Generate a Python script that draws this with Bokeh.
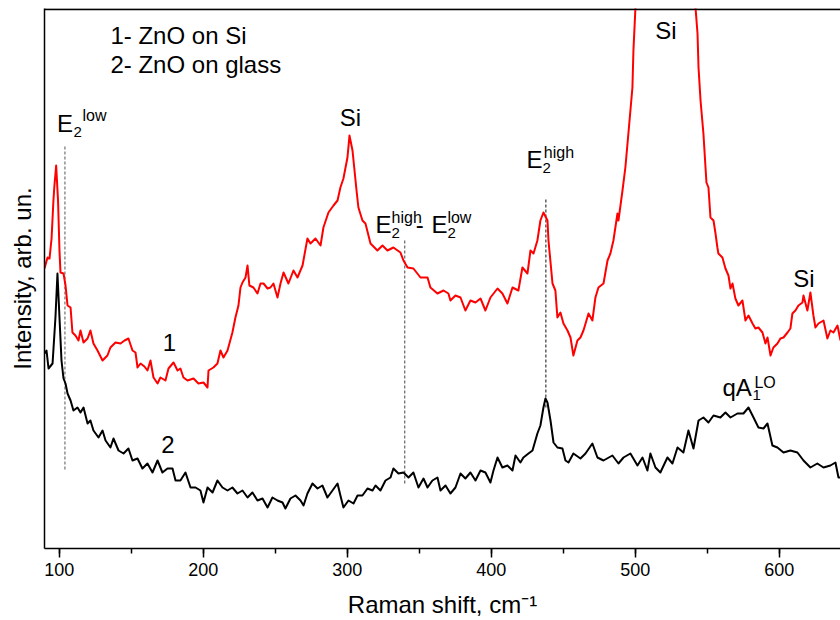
from bokeh.plotting import figure
from bokeh.models import Range1d, SingleIntervalTicker, FixedTicker, Label, Span
from bokeh.embed import file_html
from bokeh.resources import INLINE

FONT = "Liberation Sans"

# ---- data: Raman shift (cm^-1) and intensity (arb. un.) ----
red_x = [89.8, 91.9, 93.3, 94.7, 96.0, 96.7, 97.9, 99.2, 100.2, 100.9, 103.0, 104.4, 105.8, 107.9, 109.2,
         111.3, 113.4, 114.8, 116.9, 119.7, 121.7, 123.8, 126.6, 130.1, 133.5, 135.6, 139.1, 142.6, 145.4,
         148.1, 150.9, 153.0, 154.4, 156.5, 159.2, 161.3, 163.4, 165.5, 168.3, 170.3, 173.8, 175.9, 179.4,
         182.2, 184.2, 186.3, 189.1, 193.3, 196.7, 200.2, 203.0, 203.7, 207.1, 209.9, 212.0, 214.1, 216.9,
         220.3, 222.4, 224.5, 225.9, 227.3, 229.4, 230.8, 232.1, 234.9, 237.7, 239.8, 241.9, 244.7, 246.7,
         248.8, 251.6, 253.7, 255.8, 259.2, 262.7, 265.5, 269.0, 272.4, 274.5, 278.0, 281.5, 283.5, 287.0,
         290.5, 293.3, 295.3, 297.4, 300.2, 301.6, 303.7, 305.1, 306.5, 307.8, 310.6, 312.7, 316.2, 321.0,
         324.5, 328.0, 332.1, 337.0, 339.1, 341.9, 346.0, 350.9, 355.8, 357.8, 362.7, 366.9, 370.3, 371.7,
         375.2, 378.7, 382.1, 385.6, 389.1, 392.6, 396.0, 399.5, 404.4, 407.8, 411.3, 414.8, 418.9, 421.7,
         425.2, 427.3, 429.4, 432.1, 434.2, 436.3, 439.1, 439.8, 442.6, 444.6, 446.0, 448.1, 450.2, 453.0,
         455.1, 457.1, 459.9, 462.0, 464.1, 467.6, 470.3, 472.4, 474.5, 478.0, 480.8, 482.8, 484.9, 487.7,
         488.4, 491.2, 493.2, 495.3, 498.1, 498.8, 500.2, 501.6, 507.1, 521.0, 534.9, 540.5, 541.9, 543.3,
         544.0, 545.4, 547.4, 549.5, 550.9, 552.3, 554.4, 555.8, 557.1, 557.8, 560.6, 562.7, 564.8, 566.2,
         567.6, 569.6, 571.7, 574.5, 576.6, 578.7, 581.5, 583.5, 585.6, 588.4, 590.5, 591.9, 594.0, 596.0,
         598.8, 600.9, 603.0, 605.8, 607.8, 609.2, 611.3, 613.4, 616.2, 616.9, 619.6, 621.7, 623.8, 625.2,
         627.3, 630.8, 633.5, 635.6, 637.7, 640.5, 642.6]
red_y = [280, 291, 290, 310, 348, 363, 383, 348, 298, 276, 275, 263, 243, 241, 216,
         213, 208, 218, 206, 210, 218, 205, 198, 188, 193, 201, 206, 205, 208,
         210, 198, 196, 181, 185, 182, 178, 188, 171, 165, 171, 168, 180, 186,
         178, 180, 171, 168, 170, 165, 166, 161, 178, 181, 185, 198, 191, 198,
         216, 231, 243, 261, 266, 271, 283, 263, 261, 255, 265, 265, 260, 261,
         265, 251, 265, 276, 265, 278, 271, 283, 310, 305, 310, 303, 321, 336,
         343, 348, 361, 370, 391, 413, 398, 378, 358, 341, 328, 325, 305, 298,
         303, 298, 301, 296, 288, 281, 280, 271, 271, 261, 255, 258, 255, 248,
         253, 251, 238, 248, 246, 250, 238, 251, 260, 255, 245, 261, 258, 281,
         275, 298, 295, 308, 328, 336, 328, 308, 265, 258, 231, 236, 225, 218,
         211, 193, 208, 211, 218, 235, 228, 251, 261, 265, 288, 295, 308, 335,
         328, 358, 381, 415, 461, 498, 541, 600, 720, 900, 720, 600, 541, 515,
         481, 448, 415, 366, 361, 331, 328, 315, 301, 295, 291, 280, 273, 260,
         265, 250, 243, 248, 228, 233, 225, 220, 221, 216, 205, 211, 193, 201,
         205, 210, 211, 216, 220, 235, 238, 243, 246, 253, 238, 256, 233, 221,
         225, 228, 210, 218, 216, 223, 208]

black_x = [89.8, 91.2, 92.6, 95.4, 97.4, 98.8, 100.2, 101.6, 103.0, 104.4, 105.8, 107.9, 109.9, 112.7,
           114.8, 116.9, 119.7, 121.7, 123.8, 127.3, 130.1, 132.2, 135.6, 137.7, 141.2, 144.7, 148.1,
           150.9, 154.4, 157.8, 161.3, 164.8, 168.3, 171.7, 175.2, 178.7, 180.8, 184.2, 187.7, 191.2,
           194.7, 198.1, 200.2, 203.0, 206.5, 209.9, 213.4, 216.9, 220.3, 223.8, 227.3, 230.8, 234.2,
           237.7, 241.2, 244.7, 248.1, 251.6, 255.1, 257.1, 260.6, 264.1, 267.6, 269.7, 272.4, 275.9,
           279.4, 282.8, 286.3, 289.8, 293.3, 295.3, 297.4, 300.9, 304.4, 307.2, 310.6, 314.1, 317.6,
           319.7, 323.1, 326.6, 330.1, 332.1, 335.6, 339.1, 342.6, 346.0, 349.5, 353.0, 355.8, 359.2,
           362.7, 364.8, 368.3, 371.7, 375.2, 378.7, 382.1, 385.6, 389.1, 392.6, 396.0, 399.5, 401.6,
           404.4, 407.8, 411.3, 414.8, 416.9, 420.3, 422.4, 425.9, 428.7, 432.1, 434.2, 436.3, 437.7,
           439.1, 441.2, 443.3, 446.0, 449.5, 451.6, 453.7, 457.1, 462.0, 465.5, 470.3, 473.8, 478.0,
           484.2, 488.4, 491.9, 496.7, 501.6, 505.1, 508.5, 510.6, 514.1, 517.5, 522.4, 525.9, 529.4,
           533.5, 537.0, 540.5, 544.0, 547.4, 550.9, 554.4, 559.2, 562.7, 566.2, 571.0, 575.2, 578.7,
           582.2, 585.6, 589.1, 591.9, 595.3, 598.8, 603.0, 607.8, 612.7, 616.9, 621.7, 626.5, 630.8,
           635.6, 639.1, 641.2, 642.6]
black_y = [195, 198, 180, 185, 231, 275, 231, 188, 170, 165, 155, 148, 138, 141,
           136, 141, 125, 128, 118, 111, 118, 108, 101, 110, 98, 95, 100,
           88, 90, 80, 85, 76, 88, 76, 80, 80, 68, 68, 76, 61,
           61, 58, 46, 61, 56, 68, 61, 58, 61, 55, 58, 51, 56,
           48, 50, 41, 51, 48, 46, 40, 50, 53, 48, 43, 55, 65,
           60, 63, 51, 58, 65, 53, 41, 48, 45, 53, 53, 60, 58,
           63, 58, 68, 71, 80, 75, 76, 71, 76, 61, 70, 61, 68,
           71, 58, 63, 55, 61, 75, 70, 76, 68, 78, 76, 66, 78,
           91, 81, 83, 78, 93, 86, 91, 95, 98, 115, 123, 141, 150,
           146, 128, 106, 101, 100, 88, 86, 95, 90, 95, 105, 91, 88,
           93, 85, 91, 95, 83, 91, 78, 95, 81, 76, 91, 85, 101,
           96, 118, 100, 128, 131, 126, 133, 131, 136, 131, 135, 135, 141,
           131, 121, 120, 125, 103, 101, 96, 98, 96, 88, 81, 85, 81,
           83, 86, 71, 71]

# phonon mode markers (dashed lines): position and vertical extent
mode_x = [104, 340, 438]
mode_lo = [79, 65, 141]
mode_hi = [404, 308, 351]
mode_colors = ["#555555", "#444444", "#111111"]

x_ticks_interval = 100
X_MIN, X_MAX = 89.8, 642.6
Y_MIN, Y_MAX = 0, 540

p = figure(width=840, height=620, output_backend="svg", toolbar_location=None, title=None,
           x_range=Range1d(X_MIN, X_MAX), y_range=Range1d(Y_MIN, Y_MAX),
           min_border_left=44, min_border_right=0, min_border_top=8, min_border_bottom=72)
p.outline_line_color = None
p.xgrid.visible = False
p.ygrid.visible = False
p.background_fill_color = "white"
p.border_fill_color = None

xa = p.xaxis[0]
xa.ticker = SingleIntervalTicker(interval=x_ticks_interval, num_minor_ticks=2)
xa.axis_label = "Raman shift, cm\u207b\u00b9"
xa.axis_label_text_font = FONT
xa.axis_label_text_font_size = "24px"
xa.axis_label_text_font_style = "normal"
xa.axis_label_text_color = "black"
xa.axis_label_standoff = 12
xa.major_label_text_font = FONT
xa.major_label_text_font_size = "18px"
xa.major_label_text_color = "black"
xa.major_label_standoff = 5
xa.major_tick_out = 9
xa.major_tick_in = 0
xa.minor_tick_out = 5
xa.minor_tick_in = 0
xa.axis_line_width = 1.5
xa.major_tick_line_width = 1.5
xa.minor_tick_line_width = 1.5
xa.axis_line_color = "black"
xa.major_tick_line_color = "black"
xa.minor_tick_line_color = "black"

ya = p.yaxis[0]
ya.ticker = FixedTicker(ticks=[], minor_ticks=[])
ya.axis_label = "Intensity, arb. un."
ya.axis_label_text_font = FONT
ya.axis_label_text_font_size = "24px"
ya.axis_label_text_font_style = "normal"
ya.axis_label_text_color = "black"
ya.axis_label_standoff = 9
ya.major_tick_out = 0
ya.major_tick_in = 0
ya.minor_tick_out = 0
ya.minor_tick_in = 0
ya.axis_line_width = 1.5
ya.axis_line_color = "black"

# top frame line (the original has no right border)
p.add_layout(Span(location=Y_MAX - 0.7, dimension="width", line_color="black",
                  line_width=1.6, level="overlay"))
p.segment(x0=[X_MIN], y0=[Y_MAX - 1.0], x1=[X_MAX], y1=[Y_MAX - 1.0],
          line_color="black", line_width=1.6)

p.segment(x0=mode_x, y0=mode_lo, x1=mode_x, y1=mode_hi, line_color=mode_colors,
          line_width=1, line_dash="3 2")

p.line(black_x, black_y, line_color="black", line_width=2, line_join="round")
p.line(red_x, red_y, line_color="#ff0000", line_width=2, line_join="round")


def lab(x, y, text, size=24, align="left"):
    # small baseline correction so the glyphs sit where the original's do
    p.add_layout(Label(x=x, y=y + 0.34 * size, text=text, text_font=FONT,
                       text_font_size=f"{size}px", text_color="black",
                       text_align=align, text_baseline="alphabetic"))


# legend text
lab(135.6, 505, "1- ZnO on Si")
lab(135.6, 476, "2- ZnO on glass")
# curve numbers
lab(176.6, 198, "1", align="center")
lab(175.6, 96, "2", align="center")
# Si labels
lab(302.3, 423, "Si", align="center")
lab(521.4, 510, "Si", align="center")
lab(617.2, 262, "Si", align="center")
# E2 low
lab(98.5, 417, "E")
lab(109.9, 411, "2", 15)
lab(116.2, 428, "low", 16)
# E2 high - E2 low
lab(319.6, 316, "E")
lab(330.8, 310, "2", 15)
lab(330.8, 326, "high", 16)
lab(347.6, 316, "-")
lab(358.5, 316, "E")
lab(369.6, 310, "2", 15)
lab(369.6, 326, "low", 16)
# E2 high
lab(424.5, 381, "E")
lab(435.6, 375, "2", 15)
lab(436.6, 391, "high", 16)
# qA1 LO
lab(560.6, 153, "qA")
lab(581.4, 148, "1", 15)
lab(582.8, 161, "LO", 16)

open("out.html", "w").write(file_html(p, INLINE))
